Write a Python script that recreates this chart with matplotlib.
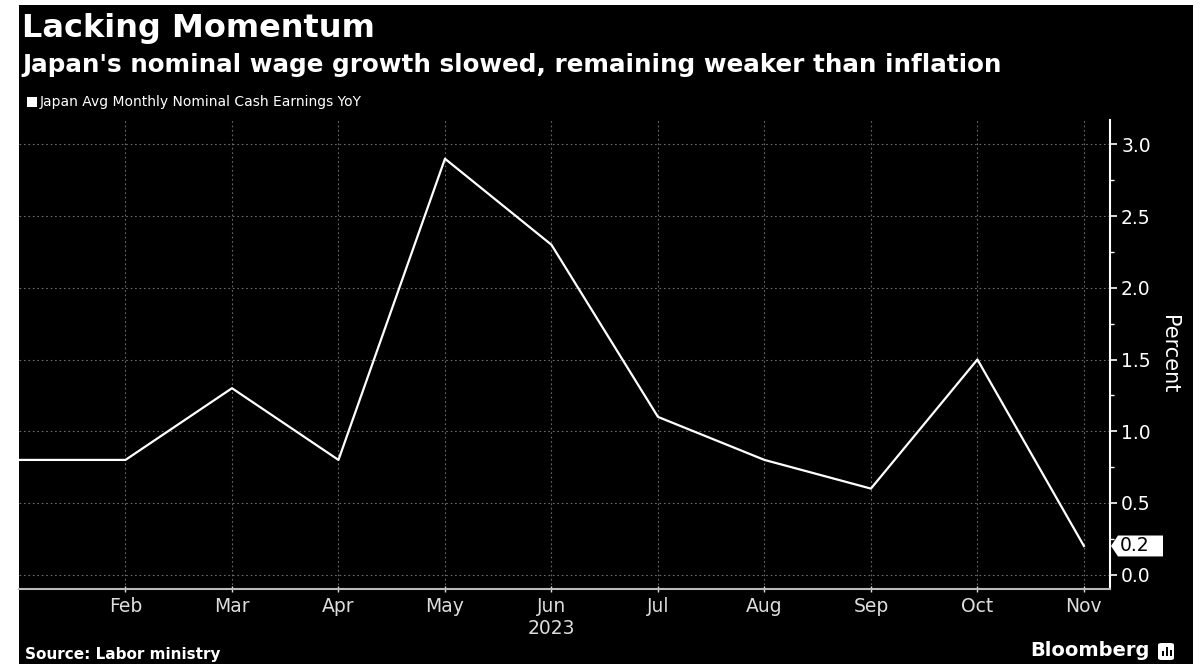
import matplotlib
matplotlib.use("Agg")
import matplotlib.pyplot as plt
from matplotlib.patches import Rectangle, FancyBboxPatch, Polygon
from matplotlib.ticker import MultipleLocator
import matplotlib.transforms as mtransforms

# monthly YoY change in nominal cash earnings, 2023
months = ["Jan", "Feb", "Mar", "Apr", "May", "Jun", "Jul", "Aug", "Sep", "Oct", "Nov"]
wages = [0.8, 0.8, 1.3, 0.8, 2.9, 2.3, 1.1, 0.8, 0.6, 1.5, 0.2]
yticks = [0.0, 0.5, 1.0, 1.5, 2.0, 2.5, 3.0]

W, H = 1201, 664
fig = plt.figure(figsize=(W / 100, H / 100), dpi=100, facecolor="white")
# black card with a thin white margin on the left, top and right
fig.patches.append(Rectangle((19 / W, 0), (1193 - 19) / W, (H - 5) / H,
                             transform=fig.transFigure, facecolor="black",
                             edgecolor="none", zorder=-5))

ax_left, ax_right = 19, 1110
ax = fig.add_axes([ax_left / W, 1 - 589 / H, (ax_right - ax_left) / W, (589 - 120) / H])
ax.set_zorder(2)
ax.set_facecolor("black")

x = list(range(len(months)))
ax.plot(x, wages, color="white", lw=1.6, zorder=3)

ax.set_xlim(0, len(months) - 1 + 0.245)
ax.set_ylim(-0.1, 3.17)

ax.set_xticks(x[1:])
ax.set_xticklabels(months[1:])
ax.set_yticks(yticks)
ax.set_yticklabels([f"{v:.1f}" for v in yticks])
ax.yaxis.set_minor_locator(MultipleLocator(0.25))
ax.yaxis.tick_right()
ax.yaxis.set_label_position("right")

grid_style = dict(color="#6a6a6a", lw=0.8, linestyle=(0, (1.5, 2.5)))
ax.grid(True, axis="both", **grid_style)
ax.set_axisbelow(True)

for side in ["left", "top"]:
    ax.spines[side].set_visible(False)
ax.spines["right"].set_color("white")
ax.spines["right"].set_linewidth(1.5)
ax.spines["bottom"].set_color("#bbbbbb")
ax.spines["bottom"].set_linewidth(1.5)

ax.tick_params(axis="y", which="major", colors="white", labelsize=13.5,
               length=5, width=1.2, pad=3)
ax.tick_params(axis="y", which="minor", colors="white", length=3, width=1)
ax.tick_params(axis="x", colors="#dddddd", labelsize=13.5, length=4,
               width=1, direction="inout", pad=4)

ax.set_ylabel("Percent", color="white", fontsize=15, rotation=270, labelpad=20)

# year under the month labels
trans = mtransforms.blended_transform_factory(ax.transData, ax.transAxes)
ax.text(5, -0.064, "2023", transform=trans, color="#dddddd", fontsize=13.5,
        ha="center", va="top")

# last-value tag on the right axis: white flag pointing at the axis
last = wages[-1]
tag_trans = mtransforms.blended_transform_factory(ax.transAxes, ax.transData)
span = ax_right - ax_left
def fx(px):
    return 1 + (px - ax_right) / span
half = 0.073
tag = Polygon([(fx(1111), last), (fx(1118), last + half), (fx(1163), last + half),
               (fx(1163), last - half), (fx(1118), last - half)],
              closed=True, transform=tag_trans, facecolor="white",
              edgecolor="none", clip_on=False, zorder=6)
ax.add_patch(tag)
ax.text(fx(1120), last, f"{last:.1f}", transform=tag_trans, color="black",
        fontsize=13.5, ha="left", va="center", clip_on=False, zorder=7)

fig.text(22 / W, 1 - 28 / H, "Lacking Momentum", color="white",
         fontsize=23, fontweight="bold", va="center", ha="left")
fig.text(22 / W, 1 - 65 / H, "Japan's nominal wage growth slowed, remaining weaker than inflation",
         color="white", fontsize=17.7, fontweight="bold", va="center", ha="left")

# legend entry
fig.patches.append(Rectangle((27 / W, 1 - 107 / H), 10 / W, 10 / H,
                             transform=fig.transFigure, facecolor="white",
                             edgecolor="none"))
fig.text(40 / W, 1 - 102 / H, "Japan Avg Monthly Nominal Cash Earnings YoY",
         color="white", fontsize=10, va="center", ha="left")

fig.text(25 / W, 1 - 654 / H, "Source: Labor ministry", color="white",
         fontsize=11, fontweight="bold", va="center", ha="left")
fig.text(1150 / W, 1 - 651 / H, "Bloomberg", color="white",
         fontsize=14, fontweight="bold", va="center", ha="right")

# small chart logo next to the wordmark
fig.patches.append(FancyBboxPatch((1158 / W, 1 - 660 / H), 16 / W, 17 / H,
                                  boxstyle="round,pad=0,rounding_size=0.003",
                                  transform=fig.transFigure, facecolor="white",
                                  edgecolor="none"))
for i, hgt in enumerate([5, 9, 6]):
    fig.patches.append(Rectangle(((1161.5 + i * 4) / W, 1 - 656 / H), 2 / W, hgt / H,
                                 transform=fig.transFigure, facecolor="black",
                                 edgecolor="none"))

fig.savefig("out.png", dpi=100, facecolor=fig.get_facecolor())
